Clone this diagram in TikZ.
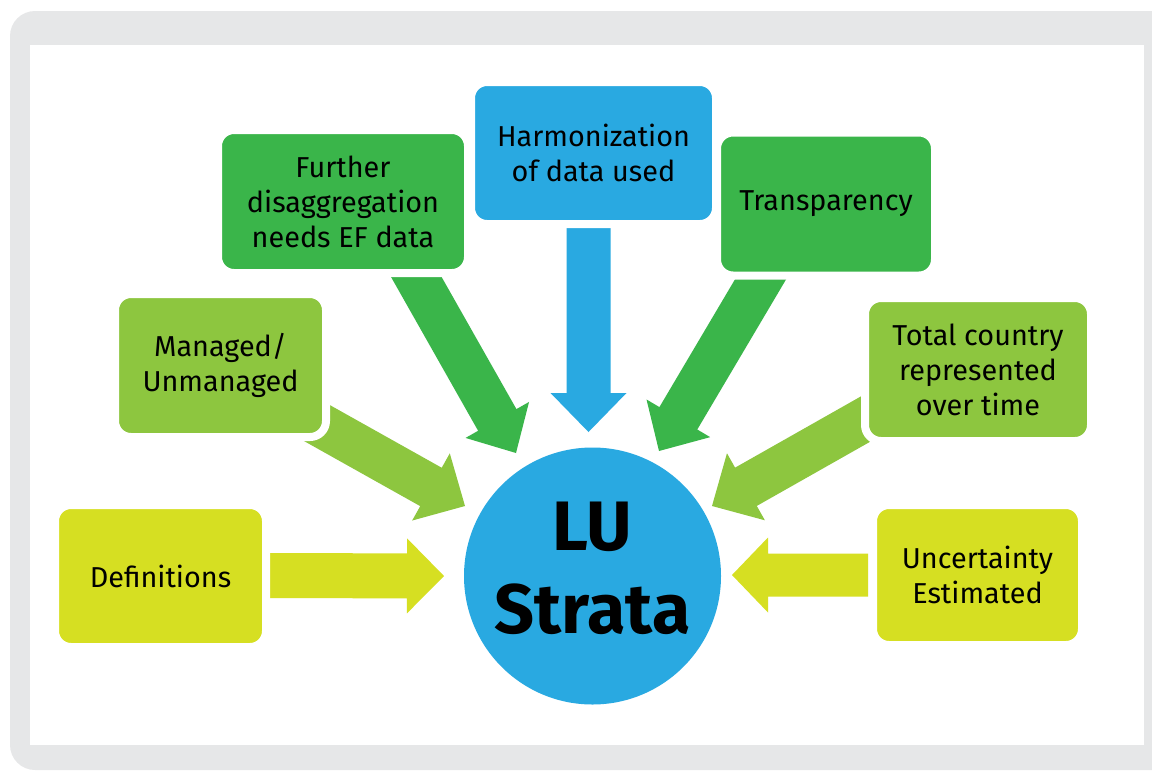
\documentclass[tikz,border=0pt]{standalone}
\usepackage{fontspec}
\setmainfont{Fira Sans}
\usetikzlibrary{calc}
\definecolor{cblue}{HTML}{29A9E1}
\definecolor{cgreen}{HTML}{3AB54A}
\definecolor{clight}{HTML}{8DC63F}
\definecolor{cyellow}{HTML}{D6DF22}
\definecolor{cgray}{HTML}{E6E7E8}
% #1 colour, #2 tail, #3 tip, #4 shaft half width, #5 head half width, #6 head length
\newcommand\blockarrow[6]{%
  \path (#2) coordinate (ba-t) (#3) coordinate (ba-h);
  \path ($(ba-h)!#6!(ba-t)$) coordinate (ba-b);
  \fill[#1] ($(ba-t)!#4!90:(ba-h)$) -- ($(ba-b)!#4!-90:(ba-t)$) -- ($(ba-b)!#5!-90:(ba-t)$)
    -- (ba-h) -- ($(ba-b)!#5!90:(ba-t)$) -- ($(ba-b)!#4!90:(ba-t)$) -- ($(ba-t)!#4!-90:(ba-h)$) -- cycle;
}
\begin{document}
\begin{tikzpicture}[x=1pt,y=-1pt,
  box/.style={rounded corners=16pt, draw=white, line width=8pt, align=center, inner sep=0pt,
    font=\fontsize{28.8}{35}\selectfont, text=black},
]
\useasboundingbox (0,0) rectangle (1152,772);
\begin{scope}
\clip (0,0) rectangle (1152,772);
\fill[cgray, rounded corners=25pt] (10,11) rectangle (1200,770);
\fill[white] (30,45) rectangle (1144,745);
\end{scope}

% arrows (drawn first, boxes cover their tails)
\blockarrow{cyellow}{268,575.5}{444,576}{22.5pt}{37.5pt}{37pt}
\blockarrow{clight}{299,413}{465,506}{22pt}{38.5pt}{39pt}
\blockarrow{cgreen}{405,257}{516,453}{22pt}{36.5pt}{38pt}
\blockarrow{cblue}{588.5,226}{588.5,432}{22pt}{38pt}{39pt}
\blockarrow{cgreen}{772,260}{659,451}{22pt}{37pt}{38pt}
\blockarrow{clight}{878,412}{712,506}{22pt}{38.5pt}{39pt}
\blockarrow{cyellow}{868,575}{732,575}{21.5pt}{37.5pt}{36pt}

% boxes
\node[box, fill=cyellow, minimum width=211pt, minimum height=142pt] (def) at (160.5,576) {Definitions};
\node[box, fill=clight, minimum width=211pt, minimum height=143pt] (man) at (220.5,365.5) {Managed/\\Unmanaged};
\node[box, fill=cgreen, minimum width=250pt, minimum height=143pt] (fur) at (343,201.5) {Further\\disaggregation\\needs EF data};
\node[box, fill=cblue, minimum width=245pt, minimum height=142pt] (har) at (593.5,153) {Harmonization\\of data used};
\node[box, fill=cgreen, minimum width=218pt, minimum height=143pt] (tra) at (826,204) {Transparency};
\node[box, fill=clight, minimum width=226pt, minimum height=143pt] (tot) at (978,369.5) {Total country\\represented\\over time};
\node[box, fill=cyellow, minimum width=209pt, minimum height=140pt] (unc) at (977.5,575) {Uncertainty\\Estimated};

% centre
\node[circle, fill=cblue, minimum size=257pt, inner sep=0pt] (lu) at (592.5,576) {};
\node[align=center, inner sep=0pt, font=\bfseries\fontsize{70}{83}\selectfont] (lut) at ([yshift=8pt]lu.center) {LU\\Strata};
\end{tikzpicture}
\end{document}
